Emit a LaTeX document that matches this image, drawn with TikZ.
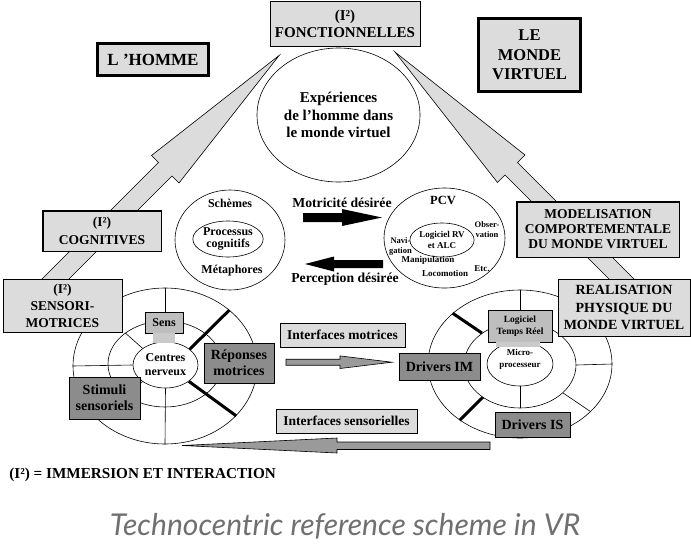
\documentclass[tikz,border=0pt]{standalone}
\usepackage{fontspec}
\setmainfont{Liberation Serif}
\newfontfamily\titlefont{Lato}
\usetikzlibrary{shapes.geometric}
\definecolor{lgray}{HTML}{DCDCDC}
\definecolor{mgray}{HTML}{BEBEBE}
\definecolor{ngray}{HTML}{CACACA}
\definecolor{dgray}{HTML}{8C8C8C}
\definecolor{agray}{HTML}{9A9A9A}
\definecolor{tgray}{HTML}{707070}
\newcommand\fz[2]{\fontsize{#1}{#2}\selectfont}
\begin{document}
\begin{tikzpicture}[x=1pt,y=-1pt,line width=0.6pt,
  box/.style={draw,rectangle,inner sep=0pt,align=center},
  ell/.style={draw,ellipse,inner sep=0pt,align=center},
  txt/.style={inner sep=0pt,align=center},
  thk/.style={line width=3pt},
  bigarrow/.style={draw,fill=lgray,line width=0.6pt},
  midarrow/.style={draw,fill=agray,line width=0.6pt}]
\fill[white] (0,0) rectangle (691,552);
\useasboundingbox (0,0) rectangle (691,552);

% big light arrows
\coordinate (LAtip) at (279.3,55.3);
\coordinate (LAbl) at (151.5,155.5);
\coordinate (LAcl) at (158.5,162.5);
\coordinate (LAcr) at (172,176);
\coordinate (LAbr) at (179,183);
\coordinate (LAel) at (35.5,285.5);
\coordinate (LAer) at (49,299);
\draw[bigarrow] (LAtip) -- (LAbl) -- (LAcl) -- (LAel) -- (LAer) -- (LAcr) -- (LAbr) -- cycle;
\coordinate (RAtip) at (395,52);
\coordinate (RAbr) at (525,155);
\coordinate (RAcr) at (517.5,162.5);
\coordinate (RAer) at (642.5,287.5);
\coordinate (RAel) at (630,300);
\coordinate (RAcl) at (505,175);
\coordinate (RAbl) at (497.5,182.5);
\draw[bigarrow] (RAtip) -- (RAbr) -- (RAcr) -- (RAer) -- (RAel) -- (RAcl) -- (RAbl) -- cycle;

% top boxes
\node[box,fill=lgray,minimum width=150pt,minimum height=45pt,font=\bfseries\fz{15}{17}] (fonct) at (345,23.5) {(I²)\\FONCTIONNELLES};
\node[box,fill=lgray,line width=3pt,minimum width=111pt,minimum height=32pt,font=\bfseries\fz{17}{19}] (homme) at (153,59.5) {L ’HOMME};
\node[box,fill=lgray,line width=3pt,minimum width=102pt,minimum height=73pt,font=\bfseries\fz{16.5}{19.5}] (monde) at (529.5,55) {LE\\MONDE\\VIRTUEL};

% experiences ellipse
\node[ell,fill=white,minimum width=163pt,minimum height=134pt,font=\bfseries\fz{15}{17.5}] (exp) at (338.5,115) {Expériences\\de l’homme dans\\le monde virtuel};

% left ellipse
\node[ell,minimum width=110pt,minimum height=100pt] (schem) at (230,240) {};
\node[ell,minimum width=62pt,minimum height=36pt,font=\bfseries\fz{12}{12}] (proc) at (228,239) {Processus\\cognitifs};
\node[txt,font=\bfseries\fz{12}{12}] (schemes) at (230,203) {Schèmes};
\node[txt,font=\bfseries\fz{12}{12}] (meta) at (232,271) {Métaphores};

% PCV ellipse
\node[ell,minimum width=121pt,minimum height=100pt] (pcv) at (444.5,238) {};
\node[ell,minimum width=52pt,minimum height=34pt,font=\bfseries\fz{9}{11}] (logrv) at (442,240) {Logiciel RV\\et ALC};
\node[txt,font=\bfseries\fz{12.5}{13}] (pcvt) at (443,200) {PCV};
\node[txt,font=\bfseries\fz{8.5}{10}] (navi) at (400.5,246) {Navi-\\gation};
\node[txt,font=\bfseries\fz{8.5}{10}] (obs) at (487,230) {Obser-\\vation};
\node[txt,font=\bfseries\fz{9}{10}] (manip) at (428,260) {Manipulation};
\node[txt,font=\bfseries\fz{9}{10}] (etc) at (482,269) {Etc.};
\node[txt,font=\bfseries\fz{9}{10}] (loco) at (445,273) {Locomotion};

% black arrows
\fill (303,213) -- (342,213) -- (342,209) -- (382,217.5) -- (342,226) -- (342,222) -- (303,222) -- cycle;
\fill (305,264) -- (334,256.5) -- (334,260) -- (383,260) -- (383,268) -- (334,268) -- (334,271.5) -- cycle;
\node[txt,font=\bfseries\fz{13.7}{14}] (mot) at (342,203) {Motricité désirée};
\node[txt,font=\bfseries\fz{13.7}{14}] (perc) at (345,279) {Perception désirée};

% side boxes
\node[box,fill=lgray,line width=1.5pt,minimum width=118.5pt,minimum height=40.5pt,font=\bfseries\fz{13.5}{18}] (cogn) at (102,231) {(I²)\\COGNITIVES};
\node[box,fill=lgray,line width=1.5pt,minimum width=162.5pt,minimum height=55.5pt,font=\bfseries\fz{13.5}{15}] (model) at (598,229.5) {MODELISATION\\COMPORTEMENTALE\\DU MONDE VIRTUEL};

% left disk
\node[ell,fill=white,minimum width=184pt,minimum height=156pt] (Lout) at (165,366) {};
\node[ell,minimum width=114pt,minimum height=86pt] (Lmid) at (165,364) {};
\node[ell,fill=white,minimum width=65pt,minimum height=46pt,font=\bfseries\fz{12}{14}] (Lin) at (165.5,365) {Centres\\nerveux};
\node[box,fill=mgray,minimum width=38pt,minimum height=21pt,font=\bfseries\fz{12}{12}] (sens) at (164,322.5) {Sens};
\node[fill=ngray,inner sep=0pt,minimum width=22pt,minimum height=10pt] (sensneck) at (164,338) {};
\draw (Lout.north) -- (Lout.north |- sens.north);
\draw (Lout.west) -- (Lin.west);
\draw (Lin.south) -- (Lout.south);
\draw (Lmid.142) -- (Lin.144);
\draw (Lmid.218) -- (Lin.216);
\draw[thk] (Lin.33) -- (Lout.41);
\draw[thk] (Lin.325) -- (Lout.325);
\node[box,fill=dgray,minimum width=70pt,minimum height=40pt,font=\bfseries\fz{14}{16}] (rep) at (239,363) {Réponses\\motrices};
\node[box,fill=dgray,minimum width=71pt,minimum height=42pt,font=\bfseries\fz{14}{16}] (stim) at (104.5,398) {Stimuli\\sensoriels};
\node[box,fill=lgray,minimum width=119pt,minimum height=53pt,font=\bfseries\fz{13.5}{17}] (senso) at (62.5,305.5) {(I²)\\SENSORI-\\MOTRICES};

% right disk
\node[ell,fill=white,minimum width=184pt,minimum height=148pt] (Rout) at (520,364) {};
\node[ell,minimum width=112pt,minimum height=86pt] (Rmid) at (520,365) {};
\node[ell,fill=white,minimum width=66pt,minimum height=44pt] (Rin) at (520,364) {};
\node[txt,font=\bfseries\fz{9}{12}] (micro) at (520,359) {Micro-\\processeur};
\node[box,fill=mgray,minimum width=64pt,minimum height=32pt,font=\bfseries\fz{9.5}{11.5}] (logi) at (520,326) {Logiciel\\Temps Réel};
\node[fill=ngray,inner sep=0pt,minimum width=44pt,minimum height=5pt] (logineck) at (518,344.5) {};
\draw (Rout.north) -- (Rout.north |- logi.north);
\draw (Rmid.east) -- (Rout.east);
\draw (Rmid.327) -- (Rout.326);
\draw (Rin.south) -- (Rmid.south);
\draw[thk] (Rmid.140) -- (Rout.143);
\draw[thk] (Rmid.221) -- (Rout.223);
\node[box,fill=dgray,minimum width=81pt,minimum height=27pt,font=\bfseries\fz{14}{16}] (drim) at (439.5,366.5) {Drivers IM};
\node[box,fill=dgray,minimum width=75pt,minimum height=25pt,font=\bfseries\fz{14}{16}] (dris) at (532.5,424.5) {Drivers IS};
\node[box,fill=lgray,minimum width=132pt,minimum height=57pt,font=\bfseries\fz{14}{17.5}] (real) at (624,307.5) {REALISATION\\PHYSIQUE DU\\MONDE VIRTUEL};

% interfaces
\node[box,fill=lgray,minimum width=125pt,minimum height=24pt,font=\bfseries\fz{13.5}{15}] (imot) at (342.5,335) {Interfaces motrices};
\draw[midarrow] (286,359.2) -- (340,359.2) -- (340,355.9) -- (392,362.2) -- (340,368.5) -- (340,365.2) -- (286,365.2) -- cycle;
\node[box,fill=lgray,minimum width=141pt,minimum height=24pt,font=\bfseries\fz{13.5}{15}] (isens) at (346.5,421) {Interfaces sensorielles};
\draw[midarrow] (182,445.5) -- (337,438) -- (337,442) -- (490,442) -- (490,449.5) -- (337,449.5) -- (337,453) -- cycle;

% legend and title
\node[txt,anchor=west,font=\bfseries\fz{15.2}{16}] (legend) at (9,475) {(I²) = IMMERSION ET INTERACTION};
\node[txt,text=tgray,font=\titlefont\itshape\fz{28}{30}] (title) at (345,526) {\resizebox{470pt}{!}{Technocentric reference scheme in VR}};
\end{tikzpicture}
\end{document}
